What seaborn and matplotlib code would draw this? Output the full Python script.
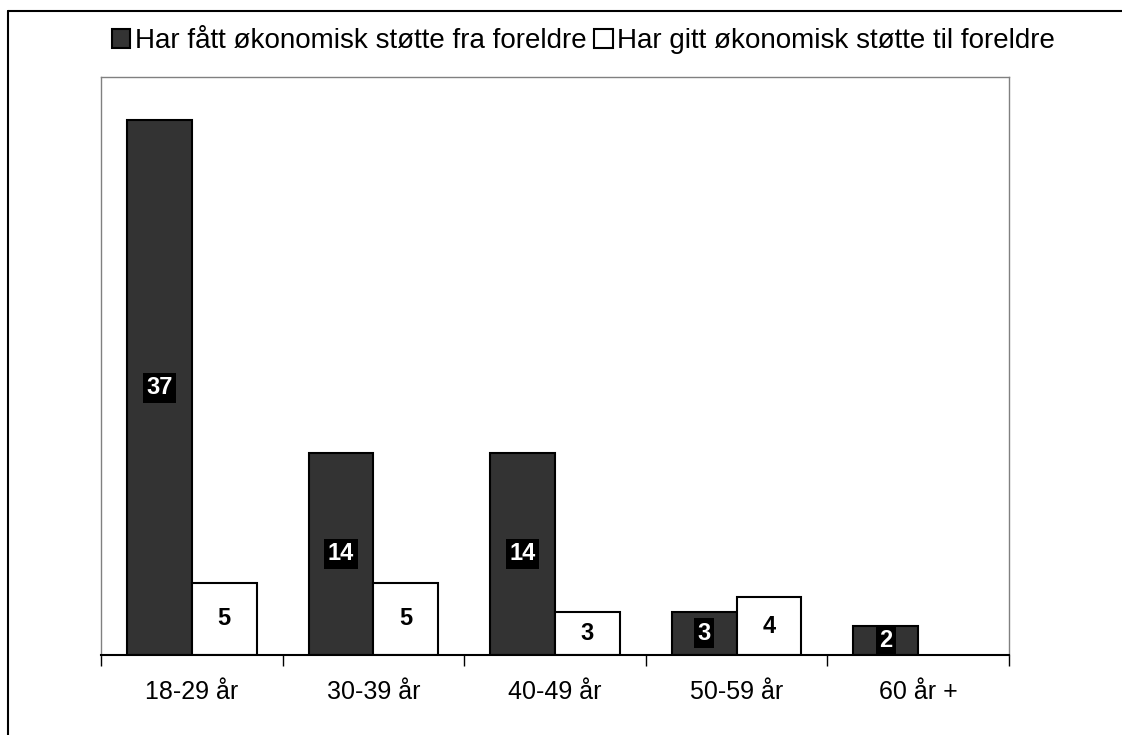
import pandas as pd
import numpy as np
import matplotlib
matplotlib.use('Agg')
import matplotlib.pyplot as plt
import seaborn as sns
from matplotlib.lines import Line2D

# data
age_groups = ['18-29 år', '30-39 år', '40-49 år', '50-59 år', '60 år +']
series_names = ['Har fått økonomisk støtte fra foreldre', 'Har gitt økonomisk støtte til foreldre']
received = [37, 14, 14, 3, 2]
given = [5, 5, 3, 4, np.nan]

df = pd.DataFrame({
    'age': age_groups * 2,
    'serie': [series_names[0]] * len(age_groups) + [series_names[1]] * len(age_groups),
    'value': received + given,
})

sns.set_style('white')
plt.rcParams['font.family'] = ['Liberation Sans', 'DejaVu Sans']
plt.rcParams['text.color'] = 'black'
plt.rcParams['xtick.color'] = 'black'

fig = plt.figure(figsize=[11.22, 7.35], dpi=100)
ax = fig.add_axes([101 / 1122, 80 / 735, 908 / 1122, 578 / 735])

bar_colors = ['#333333', '#ffffff']
sns.barplot(data=df, x='age', y='value', hue='serie', hue_order=series_names,
            palette=bar_colors, edgecolor='black', linewidth=1.5, width=0.714,
            saturation=1, ax=ax, legend=False)

ax.set_ylim(0, 40)
ax.set_xlim(-0.5, len(age_groups) - 0.5)
ax.set_xlabel('')
ax.set_ylabel('')
ax.set_yticks([])
ax.set_xticks(np.arange(-0.5, len(age_groups)), minor=False)
ax.set_xticklabels([])
ax.set_xticks(np.arange(len(age_groups)), minor=True)
ax.set_xticklabels(age_groups, minor=True, fontsize=18)
ax.tick_params(axis='x', which='major', direction='out', length=8, width=1, color='black', bottom=True)
ax.tick_params(axis='x', which='minor', length=0, pad=18, labelcolor='black')

for side in ['left', 'top', 'right']:
    ax.spines[side].set_color('#808080')
    ax.spines[side].set_linewidth(1)
ax.spines['bottom'].set_color('black')
ax.spines['bottom'].set_linewidth(1.5)

# value labels in the middle of each bar
for i, cont in enumerate(ax.containers):
    for bar, v in zip(cont, received if i == 0 else given):
        if np.isnan(v):
            continue
        xc = bar.get_x() + bar.get_width() / 2
        yc = bar.get_height() / 2
        if i == 0:
            ax.text(xc, yc, str(int(v)), ha='center', va='center', fontsize=17,
                    fontweight='bold', color='white',
                    bbox=dict(boxstyle='square,pad=0.15', facecolor='black', edgecolor='none'))
        else:
            ax.text(xc, yc, str(int(v)), ha='center', va='center', fontsize=17,
                    fontweight='bold', color='black')

# legend on top
handles = [plt.Rectangle((0, 0), 1, 1, facecolor=c, edgecolor='black', linewidth=1.5) for c in bar_colors]
fig.legend(handles, series_names, loc='center', bbox_to_anchor=(0.52, 0.944), ncol=2,
           frameon=False, fontsize=20, handlelength=0.65, handleheight=0.65,
           handletextpad=0.15, columnspacing=0.3, labelcolor='black')

# outer frame (top and left only)
fig.add_artist(Line2D([8 / 1122, 8 / 1122], [0, 1 - 11 / 735], color='black', linewidth=1.5, transform=fig.transFigure))
fig.add_artist(Line2D([8 / 1122, 1], [1 - 11 / 735, 1 - 11 / 735], color='black', linewidth=1.5, transform=fig.transFigure))

plt.savefig('out.png', dpi=100)
